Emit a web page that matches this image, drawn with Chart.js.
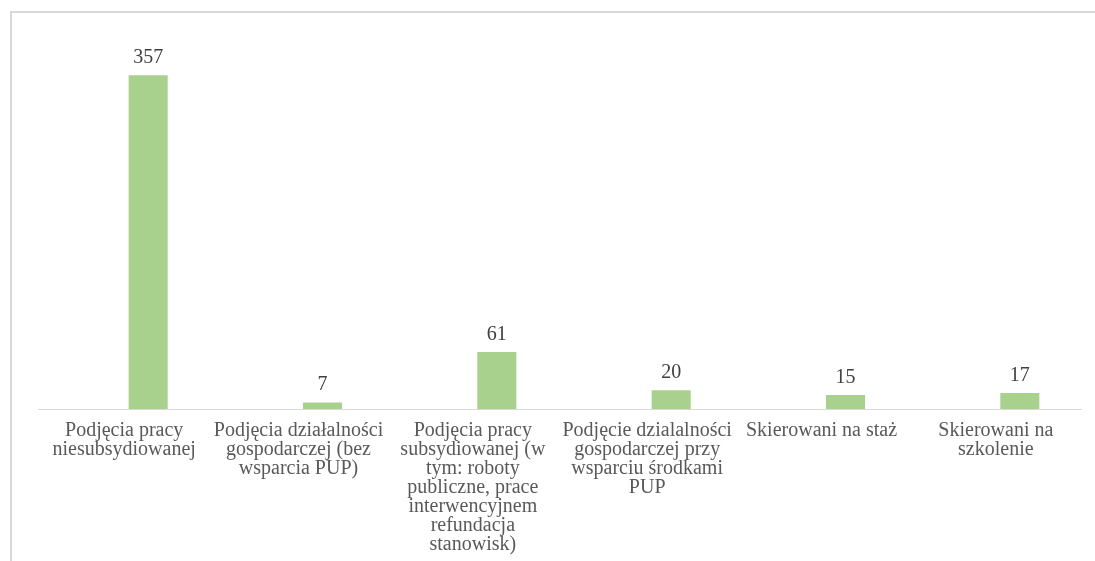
<!DOCTYPE html>
<html>
<head>
<meta charset="utf-8">
<script src="https://cdn.jsdelivr.net/npm/chart.js@4/dist/chart.umd.min.js"></script>
<style>
  html, body { margin: 0; padding: 0; background: #ffffff; overflow: hidden; }
  #wrap { position: relative; width: 1095px; height: 561px; overflow: hidden; }
  #c { position: absolute; left: 0; top: 0; }
  #pre { position: absolute; left: -9999px; top: 0; font: 20px "Liberation Serif"; }
</style>
</head>
<body>
<div id="pre">Podjęcia działalności 357</div>
<div id="wrap"><canvas id="c" width="1120" height="561"></canvas></div>
<script>
const categories = [
  ["Podjęcia pracy", "niesubsydiowanej"],
  ["Podjęcia działalności", "gospodarczej (bez", "wsparcia PUP)"],
  ["Podjęcia pracy", "subsydiowanej (w", "tym: roboty", "publiczne, prace", "interwencyjnem", "refundacja", "stanowisk)"],
  ["Podjęcie dzialalności", "gospodarczej przy", "wsparciu środkami", "PUP"],
  ["Skierowani na staż"],
  ["Skierowani na", "szkolenie"]
];
const values = [357, 7, 61, 20, 15, 17];

const FONT = '"Liberation Serif", "Times New Roman", serif';

const frame = {
  id: 'frame',
  beforeDraw(chart) {
    const ctx = chart.ctx;
    ctx.save();
    ctx.strokeStyle = '#d9d9d9';
    ctx.lineWidth = 2;
    ctx.beginPath();
    ctx.moveTo(11, 600);
    ctx.lineTo(11, 12);
    ctx.lineTo(1120, 12);
    ctx.stroke();
    // category axis line
    const y = Math.round(chart.chartArea.bottom) + 0.5;
    ctx.lineWidth = 1;
    ctx.beginPath();
    ctx.moveTo(38, y);
    ctx.lineTo(1082, y);
    ctx.stroke();
    ctx.restore();
  }
};

const valueLabels = {
  id: 'valueLabels',
  afterDatasetsDraw(chart) {
    const ctx = chart.ctx;
    const meta = chart.getDatasetMeta(0);
    ctx.save();
    ctx.font = '20px ' + FONT;
    ctx.fillStyle = '#404040';
    ctx.textAlign = 'center';
    ctx.textBaseline = 'alphabetic';
    meta.data.forEach((bar, i) => {
      ctx.fillText(String(chart.data.datasets[0].data[i]), bar.x, bar.y - 12);
    });
    ctx.restore();
  }
};

function draw() {
  new Chart(document.getElementById('c'), {
    type: 'bar',
    data: {
      labels: categories,
      datasets: [{
        data: values,
        backgroundColor: '#a9d18e',
        borderWidth: 0,
        categoryPercentage: 1.0,
        barPercentage: 0.224
      }]
    },
    options: {
      responsive: false,
      animation: false,
      devicePixelRatio: 1,
      layout: { padding: { left: 61, right: 13, top: 35, bottom: 0 } },
      plugins: { legend: { display: false }, tooltip: { enabled: false }, title: { display: false } },
      scales: {
        y: { display: false, min: 0, max: 400 },
        x: {
          grid: { display: false, drawTicks: false },
          border: { display: false },
          ticks: {
            autoSkip: false,
            maxRotation: 0,
            minRotation: 0,
            padding: 12,
            labelOffset: -24,
            color: '#595959',
            font: { family: FONT, size: 20, lineHeight: 0.95 }
          },
          afterFit(scale) { scale.height = 152; }
        }
      }
    },
    plugins: [frame, valueLabels]
  });
}

if (document.fonts && document.fonts.load) {
  document.fonts.load('20px "Liberation Serif"').then(draw, draw);
} else {
  draw();
}
</script>
</body>
</html>
